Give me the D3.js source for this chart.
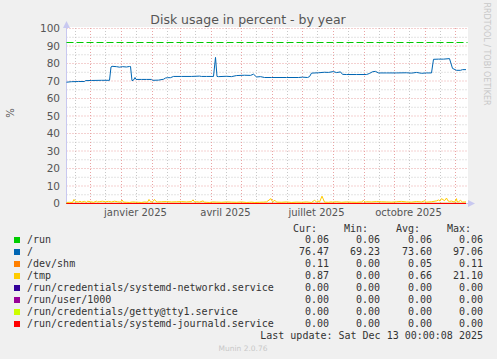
<!DOCTYPE html>
<html><head><meta charset="utf-8">
<script src="https://cdn.jsdelivr.net/npm/d3@7"></script>
<style>
html,body{margin:0;padding:0;background:#f0f0f0;}
svg{display:block;}
</style></head>
<body>
<svg id="chart" width="497" height="359"></svg>
<script>
// ---- data ----
const startDate = Date.UTC(2024, 10, 8);
const endDate = Date.UTC(2025, 11, 13);
const yTicks = [0,10,20,30,40,50,60,70,80,90,100];
const xLabelDates = ["2025-01-16","2025-04-16","2025-07-16","2025-10-16"];
const xLabels = ["janvier 2025","avril 2025","juillet 2025","octobre 2025"];
const warningLevel = 92;

// "/" series: day offset from start, value (%)
const rootDays =   [0,5,12,18,19,25,35,43,44.5,45.5,50,53,56,60,63,64,65.5,67,68.5,69.5,75,80,85,86,92,97,99,101,104,107,115,125,133,135,140,147,149,150.5,152,160,165,170,178,184,187,190,194,198,205,220,232,236,241,243,245,252,258,262,267,270,274,276,280,290,300,303,306,309,312,320,330,340,345,350,355,360,365,367,372,377,383,386,390,394,396,399.5];
const rootValues = [69.3,69.6,69.7,69.7,70.2,70.3,70.4,70.4,78.0,78.4,78.2,77.9,78.2,78.0,78.3,78.3,70.2,70.5,72.0,70.9,70.9,70.9,70.9,70.4,70.5,71.0,71.7,71.9,71.9,72.6,72.6,72.6,72.8,72.6,72.6,72.6,83.5,72.6,72.5,72.7,72.5,73.1,73.3,73.2,73.9,72.3,72.5,72.0,72.0,72.0,72.0,72.2,72.0,72.5,74.5,74.7,75.0,74.9,75.4,74.8,75.2,73.8,73.7,73.7,73.7,74.3,75.3,75.5,74.6,74.6,74.6,74.7,74.5,74.9,74.4,74.6,74.6,82.4,82.5,82.5,82.8,77.2,76.1,76.1,76.5,76.5];

// "/tmp" series
const tmpDays =   [0,3,6,7.5,9,12,13.5,15,18,20,21,24,27,30,31,33,36,39,42,45,48,51,54,55.5,57,60,63,66,69,72,75,78,81,82.5,84,86,88,89.5,91,95,100,105,110,115,120,125,126.5,128,130,133,136.5,138,140,143,146,150,155,160,165,170,175,180,183,185,188,193,197,200,204.5,206,208.5,210,215,220,225,230,235,240,245,248,250,251.5,253,255.5,258,262,264.5,266,270,275,280,285,290,295,297,298.5,300,305,310,315,320,325,330,335,340,345,350,355,358.5,360,365,370,372,373.5,375,378,380,381.5,383,385,388,390,390.5,392,394,396,398,399.5];
const tmpValues = [0.6,0.7,0.6,2.3,1.0,0.9,1.3,0.8,1.2,0.6,1.3,1.0,0.7,1.3,0.9,1.1,1.3,1.0,1.2,0.9,1.3,1.0,0.8,2.0,0.8,0.7,0.6,0.9,0.8,0.7,0.6,0.9,0.7,2.3,1.0,0.9,2.3,1.1,0.9,1.0,1.1,0.9,1.0,1.1,0.9,1.1,2.1,0.9,1.0,0.8,1.5,0.8,0.7,0.6,0.9,0.8,0.7,0.9,0.8,0.7,0.9,0.6,0.7,0.8,0.6,0.7,0.8,0.9,2.8,1.0,1.8,0.8,0.7,0.9,0.6,0.8,0.7,0.9,0.6,1.8,0.9,1.5,0.8,4.2,0.8,0.7,0.9,0.8,1.0,0.7,0.9,0.8,0.7,0.9,1.7,0.8,1.0,0.9,1.1,1.0,0.9,0.8,1.0,1.2,0.9,0.8,1.1,0.9,1.6,0.8,1.0,1.5,2.0,1.4,2.8,1.6,3.1,1.5,1.2,1.4,0.8,2.8,1.0,1.0,1.8,0.8,0.9,0.9];

const flatSeries = [
  {name:"/run", value:0.06},
  {name:"/dev/shm", value:0.11},
  {name:"/run/credentials/systemd-networkd.service", value:0},
  {name:"/run/user/1000", value:0},
  {name:"/run/credentials/getty@tty1.service", value:0},
  {name:"/run/credentials/systemd-journald.service", value:0}
];

const legendNames = ["/run","/","/dev/shm","/tmp","/run/credentials/systemd-networkd.service","/run/user/1000","/run/credentials/getty@tty1.service","/run/credentials/systemd-journald.service"];
const legendColors = ["#00cc00","#0066b3","#ff8000","#ffcc00","#330099","#990099","#ccff00","#ff0000"];
const curValues = ["0.06","76.47","0.11","0.87","0.00","0.00","0.00","0.00"];
const minValues = ["0.06","69.23","0.00","0.00","0.00","0.00","0.00","0.00"];
const avgValues = ["0.06","73.60","0.05","0.66","0.00","0.00","0.00","0.00"];
const maxValues = ["0.06","97.06","0.11","21.10","0.00","0.00","0.00","0.00"];
const columnHeaders = ["Cur:","Min:","Avg:","Max:"];

// ---- drawing ----
const svg = d3.select("#chart");
const DAY = 86400000;
const x = d3.scaleUtc().domain([new Date(startDate), new Date(endDate)]).range([66.5, 466.5]);
const y = d3.scaleLinear().domain([0,100]).range([203.5, 28.5]);
const plotL = 66.5, plotR = 467.5, plotT = 28, plotB = 203.5;

svg.append("rect").attr("x",66).attr("y",27).attr("width",402).attr("height",177).attr("fill","#ffffff");

const grid = svg.append("g");
// minor horizontal
d3.range(5,100,10).forEach(v=>{
  grid.append("line").attr("x1",plotL).attr("x2",plotR).attr("y1",y(v)).attr("y2",y(v))
    .attr("stroke","#c8c8c8").attr("stroke-dasharray","1,2");
});
// minor vertical (mid-month)
d3.utcMonth.range(new Date(startDate - 20*DAY), new Date(endDate)).forEach(m=>{
  const d = new Date(+m + 15*DAY);
  if (d < startDate || d > endDate) return;
  const xx = Math.round(x(d))+0.5;
  grid.append("line").attr("x1",xx).attr("x2",xx).attr("y1",plotT).attr("y2",plotB)
    .attr("stroke","#c8c8c8").attr("stroke-dasharray","1,2");
});
// major horizontal
yTicks.forEach(v=>{
  grid.append("line").attr("x1",plotL).attr("x2",plotR).attr("y1",y(v)).attr("y2",y(v))
    .attr("stroke","#e9a3a3").attr("stroke-dasharray","1,2");
});
// major vertical (month starts)
d3.utcMonth.range(new Date(startDate), new Date(endDate)).forEach(m=>{
  const xx = Math.round(x(m))+0.5;
  grid.append("line").attr("x1",xx).attr("x2",xx).attr("y1",plotT).attr("y2",plotB)
    .attr("stroke","#e9a3a3").attr("stroke-dasharray","1,2");
});

// y labels
svg.append("g").selectAll("text").data(yTicks).join("text")
  .attr("x",60).attr("y",d=>y(d)+3.6).attr("text-anchor","end")
  .attr("font-family","DejaVu Sans").attr("font-size",10.5).attr("fill","#555")
  .text(d=>d);
// x labels
svg.append("g").selectAll("text").data(xLabelDates).join("text")
  .attr("x",d=>x(new Date(d+"T00:00:00Z"))).attr("y",215.5).attr("text-anchor","middle")
  .attr("font-family","DejaVu Sans").attr("font-size",10).attr("fill","#555")
  .text((d,i)=>xLabels[i]);

// axes
svg.append("line").attr("x1",66.5).attr("x2",66.5).attr("y1",26).attr("y2",204).attr("stroke","#c8c8f0");
svg.append("path").attr("d","M63,28 L66.5,21 L70,28 Z").attr("fill","#c8c8f0");
svg.append("line").attr("x1",66).attr("x2",469).attr("y1",203.5).attr("y2",203.5).attr("stroke","#c8c8f0");
svg.append("path").attr("d","M468,200 L475,203.5 L468,207 Z").attr("fill","#c8c8f0");

// warning line
svg.append("line").attr("x1",plotL).attr("x2",plotR).attr("y1",y(warningLevel)).attr("y2",y(warningLevel))
  .attr("stroke","#00cc00").attr("stroke-width",1).attr("stroke-dasharray","7,3");

const line = d3.line().x(d=>x(new Date(startDate + d[0]*DAY))).y(d=>y(d[1]));
const plotG = svg.append("g");
function drawSeries(days, vals, color){
  plotG.append("path").datum(days.map((d,i)=>[d,vals[i]]))
    .attr("d",line).attr("fill","none").attr("stroke",color).attr("stroke-width",1);
}
const fs = name => flatSeries.find(s=>s.name===name).value;
const flatDays = [0,399.5];
drawSeries(flatDays,[fs("/run"),fs("/run")],legendColors[0]);
drawSeries(rootDays,rootValues,legendColors[1]);
drawSeries(flatDays,[fs("/dev/shm"),fs("/dev/shm")],legendColors[2]);
drawSeries(tmpDays,tmpValues,legendColors[3]);
drawSeries(flatDays,[0,0],legendColors[4]);
drawSeries(flatDays,[0,0],legendColors[5]);
drawSeries(flatDays,[0,0],legendColors[6]);
drawSeries(flatDays,[0,0],legendColors[7]);

// title
svg.append("text").attr("x",248).attr("y",24).attr("text-anchor","middle")
  .attr("font-family","DejaVu Sans").attr("font-size",12.5).attr("fill","#555")
  .text("Disk usage in percent - by year");
// y axis title
svg.append("text").attr("transform","translate(14,113) rotate(-90)").attr("text-anchor","middle")
  .attr("font-family","DejaVu Sans").attr("font-size",10).attr("fill","#555").text("%");
// watermark
svg.append("text").attr("transform","translate(484,54) rotate(90)").attr("text-anchor","middle")
  .attr("font-family","DejaVu Sans").attr("font-size",8).attr("fill","#c8c8c8").text("RRDTOOL / TOBI OETIKER");

// legend
const mono = "DejaVu Sans Mono";
const colEnds = [329,380,432,483];
const lg = svg.append("g").attr("font-family",mono).attr("font-size",10).attr("fill","#333");
columnHeaders.forEach((h,i)=>{
  lg.append("text").attr("x",colEnds[i]-12).attr("y",231.5).attr("text-anchor","end").attr("xml:space","preserve").text(h);
});
legendNames.forEach((n,i)=>{
  const yy = 243 + 12*i;
  svg.append("rect").attr("x",14).attr("y",yy-6).attr("width",6).attr("height",6).attr("fill",legendColors[i]);
  lg.append("text").attr("x",27).attr("y",yy).text(n);
  [curValues,minValues,avgValues,maxValues].forEach((arr,j)=>{
    lg.append("text").attr("x",colEnds[j]).attr("y",yy).attr("text-anchor","end").text(arr[i]);
  });
});
lg.append("text").attr("x",483).attr("y",339).attr("text-anchor","end").text("Last update: Sat Dec 13 00:00:08 2025");
svg.append("text").attr("x",243).attr("y",351).attr("text-anchor","middle")
  .attr("font-family","DejaVu Sans").attr("font-size",7.5).attr("fill","#c8c8c8").text("Munin 2.0.76");
</script>
</body></html>
